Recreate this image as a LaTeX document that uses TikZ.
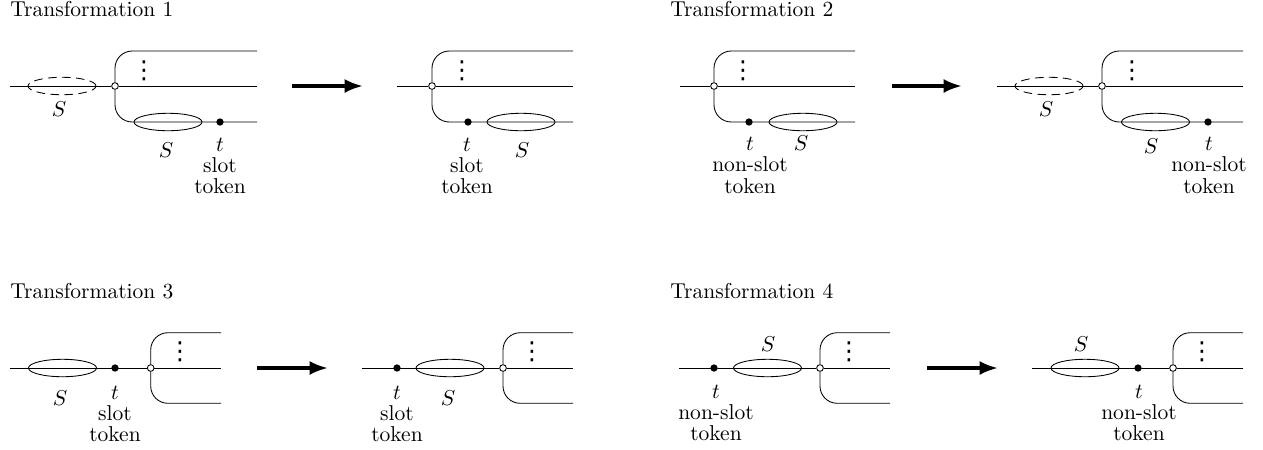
\documentclass[tikz,border=0pt]{standalone}
\usepackage{fontspec}
\newfontfamily\dvfont{DejaVu Sans}
\usetikzlibrary{shapes.geometric,arrows.meta}
\begin{document}
\begin{tikzpicture}[x=0.4645pt,y=-0.4645pt,
  hub/.style={circle,draw,fill=white,inner sep=0pt,minimum size=3.1pt},
  tok/.style={circle,fill=black,inner sep=0pt,minimum size=3.4pt},
  seg/.style={ellipse,draw,inner sep=0pt,minimum width=31.6pt,minimum height=8.1pt},
  ghost/.style={seg,dash pattern=on 4pt off 2.5pt},
  lbl/.style={anchor=base,inner sep=0pt},
  stack/.style={anchor=base,inner sep=0pt,align=center,font=\fontsize{10pt}{9.85pt}\selectfont},
  ttl/.style={anchor=base west,inner sep=0pt},
  dts/.style={anchor=base,inner sep=0pt,font=\dvfont\fontsize{11.5pt}{12pt}\selectfont},
  branch/.style={rounded corners=8pt},
  bigarrow/.style={line width=1.6pt,-{Latex[length=8.5pt,width=6.5pt]}}]
\useasboundingbox (0,0) rectangle (1263,449);

% ================= Transformation 1 =================
\node[ttl] (t1) at (10,16.5) {Transformation 1};
% left
\coordinate (a1L) at (10,86); \coordinate (a1R) at (257,86);
\coordinate (a1T) at (257,51); \coordinate (a1B) at (257,122);
\node[hub] (a1c) at (115,86) {};
\node[ghost] (a1g) at (62,86) {};
\node[lbl] (a1gs) at (59,116) {$S$};
\node[seg] (a1s) at (168,122) {};
\node[lbl] (a1ss) at (166,157) {$S$};
\node[tok] (a1t) at (220,122) {};
\node[stack] (a1tl) at (220,193.5) {$t$\\slot\\token};
\node[dts] (a1d) at (144,78) {⋮};
\draw (a1L) -- (a1c) -- (a1R);
\draw[branch] (a1c) |- (a1T);
\draw[branch] (a1c) |- (a1B);
% arrow
\coordinate (r1s) at (292,86); \coordinate (r1e) at (363,86);
\draw[bigarrow] (r1s) -- (r1e);
% right
\coordinate (b1L) at (397,86); \coordinate (b1R) at (573,86);
\coordinate (b1T) at (573,51); \coordinate (b1B) at (573,122);
\node[hub] (b1c) at (432,86) {};
\node[tok] (b1t) at (468,122) {};
\node[stack] (b1tl) at (467,193.5) {$t$\\slot\\token};
\node[seg] (b1s) at (521,122) {};
\node[lbl] (b1ss) at (522,157) {$S$};
\node[dts] (b1d) at (462,78) {⋮};
\draw (b1L) -- (b1c) -- (b1R);
\draw[branch] (b1c) |- (b1T);
\draw[branch] (b1c) |- (b1B);

% ================= Transformation 2 =================
\node[ttl] (t2) at (670,16.5) {Transformation 2};
% left
\coordinate (a2L) at (680,86); \coordinate (a2R) at (855,86);
\coordinate (a2T) at (855,51); \coordinate (a2B) at (855,122);
\node[hub] (a2c) at (714,86) {};
\node[tok] (a2t) at (749,122) {};
\node[stack] (a2tl) at (750,193) {$t$\\non-slot\\token};
\node[seg] (a2s) at (803,122) {};
\node[lbl] (a2ss) at (801,150) {$S$};
\node[dts] (a2d) at (743,78) {⋮};
\draw (a2L) -- (a2c) -- (a2R);
\draw[branch] (a2c) |- (a2T);
\draw[branch] (a2c) |- (a2B);
% arrow
\coordinate (r2s) at (892,86); \coordinate (r2e) at (962,86);
\draw[bigarrow] (r2s) -- (r2e);
% right
\coordinate (b2L) at (997,86); \coordinate (b2R) at (1243,86);
\coordinate (b2T) at (1243,51); \coordinate (b2B) at (1243,122);
\node[ghost] (b2g) at (1049,86) {};
\node[lbl] (b2gs) at (1046,116) {$S$};
\node[hub] (b2c) at (1102,86) {};
\node[seg] (b2s) at (1155.5,122) {};
\node[lbl] (b2ss) at (1151,153) {$S$};
\node[tok] (b2t) at (1208,122) {};
\node[stack] (b2tl) at (1209,193) {$t$\\non-slot\\token};
\node[dts] (b2d) at (1132,78) {⋮};
\draw (b2L) -- (b2c) -- (b2R);
\draw[branch] (b2c) |- (b2T);
\draw[branch] (b2c) |- (b2B);

% ================= Transformation 3 =================
\node[ttl] (t3) at (10,298) {Transformation 3};
% left
\coordinate (a3L) at (10,368); \coordinate (a3R) at (221,368);
\coordinate (a3T) at (221,332.7); \coordinate (a3B) at (221,403.3);
\node[seg] (a3s) at (62.5,368) {};
\node[lbl] (a3ss) at (60,405) {$S$};
\node[tok] (a3t) at (115,368) {};
\node[stack] (a3tl) at (115,441.5) {$t$\\slot\\token};
\node[hub] (a3c) at (150.7,368) {};
\node[dts] (a3d) at (180,359.5) {⋮};
\draw (a3L) -- (a3c) -- (a3R);
\draw[branch] (a3c) |- (a3T);
\draw[branch] (a3c) |- (a3B);
% arrow
\coordinate (r3s) at (257,368); \coordinate (r3e) at (328,368);
\draw[bigarrow] (r3s) -- (r3e);
% right
\coordinate (b3L) at (362,368); \coordinate (b3R) at (573,368);
\coordinate (b3T) at (573,332.7); \coordinate (b3B) at (573,403.3);
\node[tok] (b3t) at (397,368) {};
\node[stack] (b3tl) at (397,441.5) {$t$\\slot\\token};
\node[seg] (b3s) at (450,368) {};
\node[lbl] (b3ss) at (448,405) {$S$};
\node[hub] (b3c) at (503,368) {};
\node[dts] (b3d) at (532,359.5) {⋮};
\draw (b3L) -- (b3c) -- (b3R);
\draw[branch] (b3c) |- (b3T);
\draw[branch] (b3c) |- (b3B);

% ================= Transformation 4 =================
\node[ttl] (t4) at (670,298) {Transformation 4};
% left
\coordinate (a4L) at (679,368); \coordinate (a4R) at (890,368);
\coordinate (a4T) at (890,332.7); \coordinate (a4B) at (890,403.3);
\node[tok] (a4t) at (714,368) {};
\node[stack] (a4tl) at (716,440.5) {$t$\\non-slot\\token};
\node[seg] (a4s) at (767.5,368) {};
\node[lbl] (a4ss) at (768,351.7) {$S$};
\node[hub] (a4c) at (820,368) {};
\node[dts] (a4d) at (849,359.5) {⋮};
\draw (a4L) -- (a4c) -- (a4R);
\draw[branch] (a4c) |- (a4T);
\draw[branch] (a4c) |- (a4B);
% arrow
\coordinate (r4s) at (927,368); \coordinate (r4e) at (998,368);
\draw[bigarrow] (r4s) -- (r4e);
% right
\coordinate (b4L) at (1032,368); \coordinate (b4R) at (1243,368);
\coordinate (b4T) at (1243,332.7); \coordinate (b4B) at (1243,403.3);
\node[seg] (b4s) at (1085,368) {};
\node[lbl] (b4ss) at (1081,351.7) {$S$};
\node[tok] (b4t) at (1138,368) {};
\node[stack] (b4tl) at (1139,440.5) {$t$\\non-slot\\token};
\node[hub] (b4c) at (1173,368) {};
\node[dts] (b4d) at (1202,359.5) {⋮};
\draw (b4L) -- (b4c) -- (b4R);
\draw[branch] (b4c) |- (b4T);
\draw[branch] (b4c) |- (b4B);
\end{tikzpicture}
\end{document}
